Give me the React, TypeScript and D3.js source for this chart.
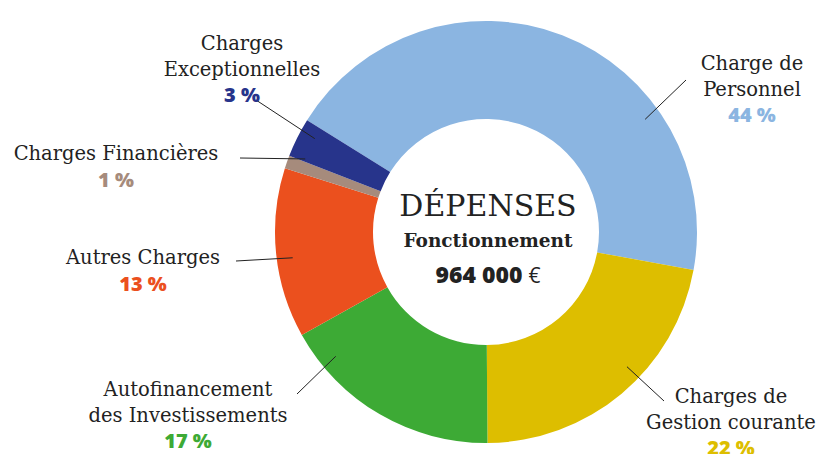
import React from "react";
import * as d3 from "d3";

const categories = [
  "Charge de Personnel",
  "Charges de Gestion courante",
  "Autofinancement des Investissements",
  "Autres Charges",
  "Charges Financières",
  "Charges Exceptionnelles",
];
const values = [44, 22, 17, 13, 1, 3];
const colors = ["#8BB5E1", "#DDBE00", "#3DAA35", "#EB501E", "#A68B7C", "#27348B"];
const labelLines = [
  ["Charge de", "Personnel"],
  ["Charges de", "Gestion courante"],
  ["Autofinancement", "des Investissements"],
  ["Autres Charges"],
  ["Charges Financières"],
  ["Charges", "Exceptionnelles"],
];
const pctLabels = ["44 %", "22 %", "17 %", "13 %", "1 %", "3 %"];
// label anchor positions (x, first baseline y)
const labelPos = [
  [752, 70],
  [731, 403],
  [188, 396],
  [143, 264],
  [116, 160],
  [242, 50],
];
// leader line: outer end near label, inner end at angle (deg, clockwise from top) inside ring
const leaderOuter = [
  [686, 80],
  [664, 401],
  [297, 394],
  [236, 261],
  [240, 158],
  [256, 100],
];
const leaderAngle = [54.7, 133.7, 230.4, 262.4, 292, 298.6];

export default function App() {
  const W = 824, H = 454;
  const cx = 486, cy = 232;
  const R = 211, r = 113;
  const pie = d3.pie<number>().sort(null).startAngle((-58 * Math.PI) / 180).endAngle((302 * Math.PI) / 180);
  const arcs = pie(values);
  const arc = d3.arc<d3.PieArcDatum<number>>().innerRadius(r).outerRadius(R);
  const serif = "'DejaVu Serif', serif";
  const sans = "'Open Sans', 'Noto Sans', sans-serif";
  return (
    <svg width={W} height={H} style={{ position: "absolute", left: 0, top: 0 }}>
      <rect width={W} height={H} fill="#fff" />
      <g transform={`translate(${cx},${cy})`}>
        {arcs.map((a, i) => (
          <path key={i} d={arc(a) || ""} fill={colors[i]} />
        ))}
      </g>
      {arcs.map((a, i) => {
        const ang = (leaderAngle[i] * Math.PI) / 180;
        const rr = 195;
        const [ox, oy] = leaderOuter[i];
        return (
          <line key={"l" + i} x1={cx + rr * Math.sin(ang)} y1={cy - rr * Math.cos(ang)} x2={ox} y2={oy} stroke="#222" strokeWidth={1} />
        );
      })}
      {labelLines.map((lines, i) => {
        const [x, y] = labelPos[i];
        return (
          <g key={"t" + i}>
            {lines.map((t, j) => (
              <text key={j} x={x} y={y + j * 25.5} textAnchor="middle" fontFamily={serif} fontSize={19.5} fill="#222">
                {t}
              </text>
            ))}
            <text x={x} y={y + lines.length * 25.5 + 1} textAnchor="middle" fontFamily={sans} fontWeight={800} fontSize={20} fill={colors[i]}>
              {pctLabels[i]}
            </text>
          </g>
        );
      })}
      <text x={cx + 2} y={216} textAnchor="middle" fontFamily={serif} fontSize={30} fill="#222">DÉPENSES</text>
      <text x={cx + 2} y={247} textAnchor="middle" fontFamily={serif} fontWeight={700} fontSize={18.5} fill="#222">Fonctionnement</text>
      <text x={cx + 2} y={283} textAnchor="middle" fill="#222">
        <tspan fontFamily={sans} fontWeight={800} fontSize={23}>964 000 </tspan>
        <tspan fontFamily={sans} fontSize={21}>€</tspan>
      </text>
    </svg>
  );
}
